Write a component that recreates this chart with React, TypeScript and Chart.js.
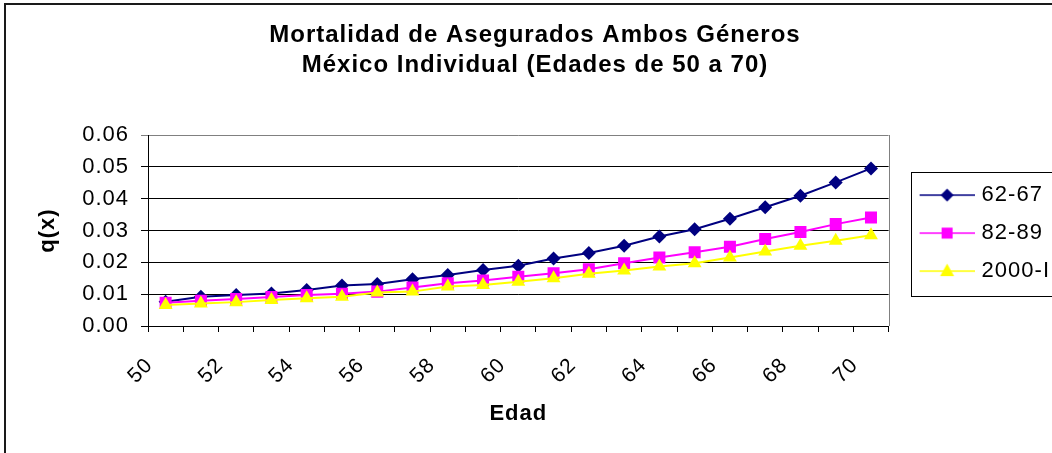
import React, { useEffect, useRef } from 'react';
import { Chart, registerables } from 'chart.js';

Chart.register(...registerables);

const ages = ['50', '51', '52', '53', '54', '55', '56', '57', '58', '59', '60', '61', '62', '63', '64', '65', '66', '67', '68', '69', '70'];
const seriesNames = ['62-67', '82-89', '2000-I'];
const s6267 = [0.0076, 0.0092, 0.0097, 0.0102, 0.0113, 0.0127, 0.0132, 0.0147, 0.016, 0.0176, 0.0189, 0.0212, 0.0229, 0.0252, 0.0281, 0.0304, 0.0337, 0.0373, 0.0409, 0.0451, 0.0495];
const s8289 = [0.0073, 0.0079, 0.0085, 0.0091, 0.0097, 0.0101, 0.0108, 0.0121, 0.0134, 0.0143, 0.0155, 0.0166, 0.0178, 0.0197, 0.0215, 0.0232, 0.0249, 0.0273, 0.0295, 0.032, 0.0341];
const s2000 = [0.0066, 0.0071, 0.0075, 0.0082, 0.0087, 0.0092, 0.0105, 0.0108, 0.0124, 0.0129, 0.0139, 0.015, 0.0164, 0.0174, 0.0187, 0.0197, 0.0215, 0.0234, 0.0252, 0.0268, 0.0285];
const titleLines = ['Mortalidad de Asegurados Ambos Géneros', 'México Individual (Edades de 50 a 70)'];
const xTitle = 'Edad';
const yTitle = 'q(x)';
const yMin = 0;
const yMax = 0.06;
const yStep = 0.01;

const colors = ['#000080', '#FF00FF', '#FFFF00'];
const shapes = ['rectRot', 'rect', 'triangle'];
const FAMILY = "'Liberation Sans', Arial, sans-serif";
const SPACING = '1px';

function makeIcon(color: string, shape: string): HTMLCanvasElement {
  const c = document.createElement('canvas');
  c.width = 74;
  c.height = 24;
  const g = c.getContext('2d')!;
  g.strokeStyle = color;
  g.lineWidth = 1.5;
  g.beginPath();
  g.moveTo(19, 12);
  g.lineTo(74, 12);
  g.stroke();
  g.fillStyle = color;
  const cx = 46.5;
  const cy = 12;
  g.beginPath();
  if (shape === 'rectRot') {
    g.moveTo(cx - 6.5, cy);
    g.lineTo(cx, cy - 6.5);
    g.lineTo(cx + 6.5, cy);
    g.lineTo(cx, cy + 6.5);
    g.closePath();
  } else if (shape === 'rect') {
    g.rect(cx - 5.5, cy - 5.5, 11, 11);
  } else {
    g.moveTo(cx, cy - 7.5);
    g.lineTo(cx + 7, cy + 5);
    g.lineTo(cx - 7, cy + 5);
    g.closePath();
  }
  g.fill();
  return c;
}

const spacingPlugin = {
  id: 'spacing',
  beforeUpdate(chart: any) { chart.ctx.letterSpacing = SPACING; },
  beforeLayout(chart: any) { chart.ctx.letterSpacing = SPACING; },
  beforeDraw(chart: any) { chart.ctx.letterSpacing = SPACING; },
};

const framePlugin = {
  id: 'frame',
  beforeDatasetsDraw(chart: any) {
    const { ctx, chartArea } = chart;
    ctx.save();
    ctx.strokeStyle = '#808080';
    ctx.lineWidth = 1;
    ctx.beginPath();
    ctx.moveTo(Math.round(chartArea.right) + 0.5, chartArea.top);
    ctx.lineTo(Math.round(chartArea.right) + 0.5, chartArea.bottom);
    ctx.stroke();
    ctx.restore();
  },
  afterDraw(chart: any) {
    const { ctx } = chart;
    ctx.save();
    ctx.strokeStyle = '#1a1a1a';
    ctx.lineWidth = 2;
    ctx.beginPath();
    ctx.moveTo(5, 460);
    ctx.lineTo(5, 4);
    ctx.lineTo(1060, 4);
    ctx.stroke();
    const lg = chart.legend;
    if (lg && lg.legendHitBoxes && lg.legendHitBoxes.length) {
      const hb = lg.legendHitBoxes;
      const first = hb[0];
      const last = hb[hb.length - 1];
      const top = Math.round(first.top - 12) + 0.5;
      const bottom = Math.round(last.top + last.height + 14) + 0.5;
      const left = Math.round(lg.left + 22) + 0.5;
      ctx.strokeStyle = '#000';
      ctx.lineWidth = 1;
      ctx.strokeRect(left, top, 1100 - left, bottom - top);
    }
    ctx.restore();
  },
};

export default function App() {
  const ref = useRef<HTMLCanvasElement | null>(null);
  useEffect(() => {
    if (!ref.current) return;
    const icons = colors.map((c, i) => makeIcon(c, shapes[i]));
    const seriesData = [s6267, s8289, s2000];
    const chart = new Chart(ref.current, {
      type: 'line',
      data: {
        labels: ages,
        datasets: seriesNames.map((name, i) => ({
          label: name,
          data: seriesData[i],
          borderColor: colors[i],
          backgroundColor: colors[i],
          borderWidth: 2,
          pointStyle: shapes[i] as any,
          pointRadius: i === 0 ? 7 : i === 1 ? 8.5 : 8,
          pointBorderWidth: 0,
          pointBackgroundColor: colors[i],
          pointBorderColor: colors[i],
          tension: 0,
          fill: false,
          order: 2 - i,
        })),
      },
      options: {
        animation: false,
        responsive: true,
        maintainAspectRatio: false,
        layout: { padding: { left: 10, right: -8, top: 0, bottom: 0 } },
        plugins: {
          tooltip: { enabled: false },
          title: {
            display: true,
            text: titleLines,
            color: '#000',
            font: { size: 24, weight: 'bold', family: FAMILY, lineHeight: 1.25 },
            padding: { top: 20, bottom: 55 },
          },
          legend: {
            position: 'right',
            title: { display: true, text: ' ', padding: 0, font: { size: 11 } },
            labels: {
              usePointStyle: true,
              pointStyleWidth: 66,
              padding: 16,
              color: '#000',
              font: { size: 22, family: FAMILY },
              generateLabels: (ch: any) =>
                ch.data.datasets.map((ds: any, i: number) => ({
                  text: ds.label,
                  fillStyle: ds.backgroundColor,
                  strokeStyle: ds.borderColor,
                  lineWidth: 0,
                  pointStyle: icons[i],
                  hidden: false,
                  datasetIndex: i,
                  fontColor: '#000',
                })),
            },
          },
        },
        scales: {
          x: {
            type: 'category',
            offset: true,
            grid: { offset: true, drawOnChartArea: false, drawTicks: true, tickLength: 6, color: '#000' },
            border: { color: '#000', width: 1 },
            ticks: {
              autoSkip: false,
              maxRotation: 45,
              minRotation: 45,
              padding: 21,
              labelOffset: -16,
              color: '#000',
              font: { size: 21, family: FAMILY },
              callback: (_v: any, i: number) => (i % 2 === 0 ? ages[i] : ''),
            },
            title: {
              display: true,
              text: xTitle,
              color: '#000',
              font: { size: 22, weight: 'bold', family: FAMILY, lineHeight: 1.2 },
              padding: { top: 0, bottom: 26 },
            },
            afterFit: (s: any) => { s.height = 127; },
          },
          y: {
            min: yMin,
            max: yMax,
            ticks: {
              stepSize: yStep,
              color: '#000',
              padding: 12,
              font: { size: 22, family: FAMILY },
              callback: (v: any) => Number(v).toFixed(2),
            },
            grid: {
              color: (c: any) => (c.tick && c.tick.value > yMax - yStep / 2 ? '#808080' : '#000'),
              tickLength: 7,
              drawTicks: true,
            },
            border: { color: '#000', width: 1 },
            title: {
              display: true,
              text: yTitle,
              color: '#000',
              font: { size: 22, weight: 'bold', family: FAMILY, lineHeight: 1.2 },
              padding: { top: 25, bottom: 0 },
            },
            afterFit: (s: any) => { s.width = 138; },
          },
        },
      },
      plugins: [spacingPlugin, framePlugin],
    } as any);
    return () => chart.destroy();
  }, []);
  return (
    <div style={{ position: 'fixed', left: 0, top: 0, width: 1052, height: 453, background: '#fff' }}>
      <canvas ref={ref} />
    </div>
  );
}
